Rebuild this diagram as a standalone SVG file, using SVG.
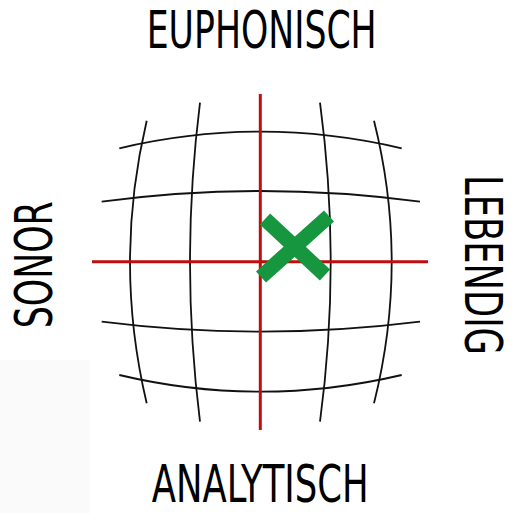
<svg xmlns="http://www.w3.org/2000/svg" width="516" height="513" viewBox="0 0 516 513">
<style>
.grid{fill:none;stroke:#111;stroke-width:1.8}
.axis{stroke:#c00d0d;stroke-width:3;fill:none}
.mark{stroke:#16963f;stroke-width:15;stroke-linecap:butt}
.lbl{font-family:"DejaVu Sans","Open Sans",sans-serif;font-stretch:condensed;font-size:52px;fill:#000}
</style>
<rect x="0" y="360" width="90" height="153" fill="#fafafa"/>
<g id="grid">
<path class="grid" d="M119.3,148.3 Q260,115 401.7,148.3"/>
<path class="grid" d="M101.7,201.7 Q260,180.3 420,201.7"/>
<path class="grid" d="M101.7,321.7 Q260,341.7 420,321.7"/>
<path class="grid" d="M119.3,375 Q260,408.4 401.7,375"/>
<path class="grid" d="M146.7,120.7 Q113.3,262 146.7,403.3"/>
<path class="grid" d="M200,102.7 Q180,262 200,421.7"/>
<path class="grid" d="M320,102.7 Q341.4,262 320,421.7"/>
<path class="grid" d="M374,120.7 Q409.4,262 374,403.3"/>
</g>
<g id="connectors">
<line class="axis" x1="260.3" y1="94" x2="260.3" y2="430"/>
<line class="axis" x1="92" y1="261.7" x2="428" y2="261.7"/>
</g>
<g id="marker">
<line class="mark" x1="265" y1="219" x2="325" y2="275"/>
<line class="mark" x1="329" y1="216" x2="261" y2="277"/>
</g>
<g id="euphonisch"><text class="lbl" x="146.7" y="48.3" textLength="230" lengthAdjust="spacingAndGlyphs">EUPHONISCH</text></g>
<g id="analytisch"><text class="lbl" x="151.7" y="501.7" textLength="217" lengthAdjust="spacingAndGlyphs">ANALYTISCH</text></g>
<g id="sonor"><text class="lbl" transform="translate(52,328.3) rotate(-90)" x="0" y="0" textLength="127" lengthAdjust="spacingAndGlyphs">SONOR</text></g>
<g id="lebendig"><text class="lbl" transform="translate(465,175) rotate(90)" x="0" y="0" textLength="180" lengthAdjust="spacingAndGlyphs">LEBENDIG</text></g>
</svg>
